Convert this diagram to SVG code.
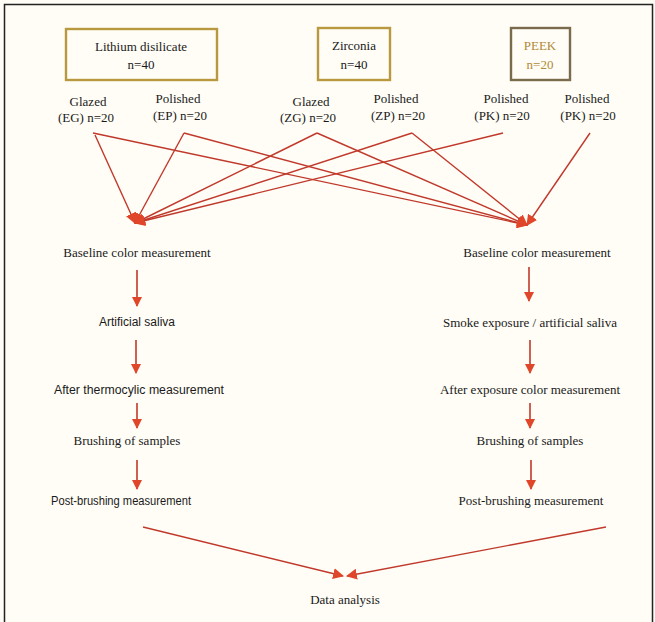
<svg xmlns="http://www.w3.org/2000/svg" width="655" height="622" viewBox="0 0 655 622">
<defs>
<marker id="ah" viewBox="0 0 10 10" refX="9" refY="5" markerWidth="10" markerHeight="10" markerUnits="userSpaceOnUse" orient="auto">
<path d="M0,0 L10,5 L0,10 z" fill="#e0462a"/>
</marker>
<marker id="ahs" viewBox="0 0 10 10" refX="9" refY="5" markerWidth="11" markerHeight="11" markerUnits="userSpaceOnUse" orient="auto">
<path d="M0,0 L10,5 L0,10 z" fill="#e0462a"/>
</marker>
<style>
.bx{fill:none;stroke:#b9993f;stroke-width:2.4}
.bx2{fill:none;stroke:#7b6b4c;stroke-width:2.4}
.sf{font-family:"Liberation Serif","Times New Roman",serif;font-size:13px;fill:#1a1a1a;text-anchor:middle}
.ss{font-family:"Liberation Sans",Arial,sans-serif;font-size:12px;fill:#1a1a1a;text-anchor:middle}
.gold{fill:#b08a38}
.ln{stroke:#c0392b;stroke-width:1.4;fill:none}
.va{stroke:#c0392b;stroke-width:1.6;fill:none}
</style>
</defs>
<rect x="0" y="0" width="655" height="622" fill="#fffdf6"/>
<path d="M4.5,626 V4.5 H652.5 V626" fill="none" stroke="#222" stroke-width="1.5"/>

<g id="box-lithium">
<rect class="bx" x="66" y="29" width="151" height="51"/>
<text class="sf" x="141" y="51">Lithium disilicate</text>
<text class="sf" x="141" y="69">n=40</text>
</g>
<g id="box-zirconia">
<rect class="bx" x="318" y="28" width="72" height="52"/>
<text class="sf" x="354" y="50">Zirconia</text>
<text class="sf" x="354" y="69">n=40</text>
</g>
<g id="box-peek">
<rect class="bx2" x="511" y="28" width="59" height="52"/>
<text class="sf gold" x="540" y="50">PEEK</text>
<text class="sf gold" x="540" y="69">n=20</text>
</g>

<g id="sub-eg">
<text class="sf" x="88" y="106">Glazed</text>
<text class="sf" x="86" y="122">(EG) n=20</text>
</g>
<g id="sub-ep">
<text class="sf" x="178" y="103">Polished</text>
<text class="sf" x="180" y="120">(EP) n=20</text>
</g>
<g id="sub-zg">
<text class="sf" x="311" y="106">Glazed</text>
<text class="sf" x="308" y="122">(ZG) n=20</text>
</g>
<g id="sub-zp">
<text class="sf" x="396" y="103">Polished</text>
<text class="sf" x="398" y="120">(ZP) n=20</text>
</g>
<g id="sub-pk1">
<text class="sf" x="506" y="103">Polished</text>
<text class="sf" x="502" y="120">(PK) n=20</text>
</g>
<g id="sub-pk2">
<text class="sf" x="587" y="103">Polished</text>
<text class="sf" x="588" y="120">(PK) n=20</text>
</g>

<g id="left-flow">
<text class="sf" id="l1" x="137" y="257">Baseline color measurement</text>
<text class="ss" id="l2" x="137" y="326">Artificial saliva</text>
<text class="ss" id="l3" x="139" y="394" textLength="170" lengthAdjust="spacingAndGlyphs">After thermocylic measurement</text>
<text class="sf" id="l4" x="127" y="445">Brushing of samples</text>
<text class="ss" id="l5" x="121" y="505" textLength="140" lengthAdjust="spacingAndGlyphs">Post-brushing measurement</text>
</g>
<g id="right-flow">
<text class="sf" id="r1" x="537" y="257">Baseline color measurement</text>
<text class="sf" id="r2" x="530" y="327">Smoke exposure / artificial saliva</text>
<text class="sf" id="r3" x="530" y="394">After exposure color measurement</text>
<text class="sf" id="r4" x="530" y="445">Brushing of samples</text>
<text class="sf" id="r5" x="531" y="505">Post-brushing measurement</text>
</g>
<g id="final">
<text class="sf" x="345" y="604">Data analysis</text>
</g>

<g id="connectors">
<line class="ln" x1="95" y1="135" x2="135" y2="223" marker-end="url(#ahs)"/>
<line class="ln" x1="93" y1="133" x2="527" y2="225" marker-end="url(#ahs)"/>
<line class="ln" x1="184" y1="133" x2="135" y2="223" marker-end="url(#ahs)"/>
<line class="ln" x1="184" y1="133" x2="527" y2="225" marker-end="url(#ahs)"/>
<line class="ln" x1="317" y1="133" x2="135" y2="223" marker-end="url(#ahs)"/>
<line class="ln" x1="317" y1="133" x2="527" y2="225" marker-end="url(#ahs)"/>
<line class="ln" x1="412" y1="133" x2="135" y2="223" marker-end="url(#ahs)"/>
<line class="ln" x1="412" y1="133" x2="527" y2="225" marker-end="url(#ahs)"/>
<line class="ln" x1="503" y1="133" x2="135" y2="223" marker-end="url(#ahs)"/>
<line class="ln" x1="590" y1="133" x2="527" y2="225" marker-end="url(#ahs)"/>

<line class="va" x1="137" y1="270" x2="137" y2="306" marker-end="url(#ah)"/>
<line class="va" x1="136" y1="340" x2="136" y2="373" marker-end="url(#ah)"/>
<line class="va" x1="137" y1="403" x2="137" y2="428" marker-end="url(#ah)"/>
<line class="va" x1="137" y1="460" x2="137" y2="489" marker-end="url(#ah)"/>
<line class="va" x1="529" y1="267" x2="529" y2="301" marker-end="url(#ah)"/>
<line class="va" x1="530" y1="340" x2="530" y2="373" marker-end="url(#ah)"/>
<line class="va" x1="530" y1="403" x2="530" y2="428" marker-end="url(#ah)"/>
<line class="va" x1="531" y1="460" x2="531" y2="489" marker-end="url(#ah)"/>

<line class="ln" x1="143" y1="527" x2="343" y2="576" marker-end="url(#ahs)"/>
<line class="ln" x1="606" y1="527" x2="347" y2="576" marker-end="url(#ahs)"/>
</g>
</svg>
